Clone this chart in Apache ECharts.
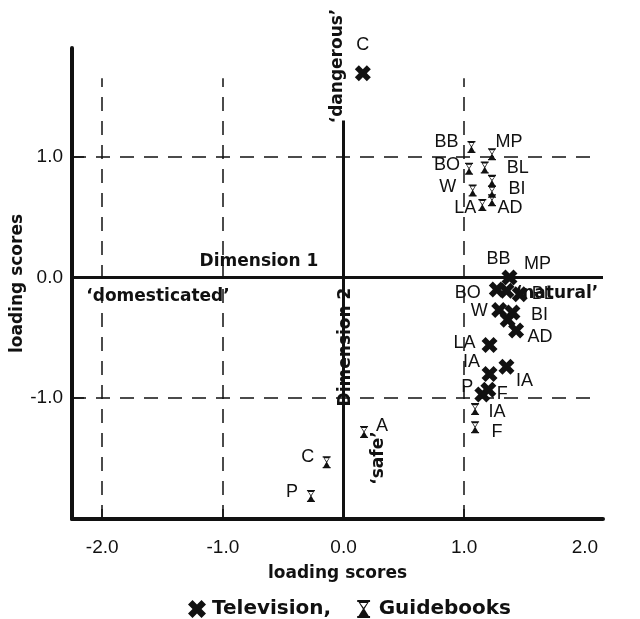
<!DOCTYPE html>
<html>
<head>
<meta charset="utf-8">
<script src="https://cdn.jsdelivr.net/npm/echarts@6/dist/echarts.min.js"></script>
<style>html,body{margin:0;padding:0;background:#fff}#c{width:640px;height:619px}</style>
</head>
<body>
<div id="c"></div>
<script>
// ---- data ----
var tvNames = ['C','MP','BB','BO','BL','W','BI','','AD','LA','IA','IA','P','F'];
var tvX = [0.16, 1.375, 1.35, 1.27, 1.46, 1.29, 1.40, 1.36, 1.43, 1.21, 1.21, 1.35, 1.15, 1.20];
var tvY = [1.69, 0.00, -0.11, -0.10, -0.14, -0.27, -0.29, -0.35, -0.44, -0.56, -0.80, -0.74, -0.97, -0.93];

var gbNames = ['BB','MP','BO','BL','','W','BI','AD','LA','IA','F','A','C','P'];
var gbX = [1.06, 1.23, 1.04, 1.17, 1.23, 1.07, 1.23, 1.23, 1.15, 1.09, 1.09, 0.17, -0.14, -0.27];
var gbY = [1.08, 1.02, 0.90, 0.91, 0.80, 0.72, 0.71, 0.64, 0.60, -1.09, -1.24, -1.28, -1.53, -1.81];

var xTickLabels = [-2, -1, 0, 1, 2];
var yTickLabels = [1, 0, -1];
var dashedX = [-2, -1, 1];
var dashedY = [1, -1];

// ---- label placement (style only) ----
var tvLabelOffsets = [[0,-28],[28,-13],[-8,-32],[-29,3],[23,0],[-20,1],[27,3],[0,0],[24,6],[-25,-2],[-18,-12],[18,14],[-15,-8],[14,4]];
var gbLabelOffsets = [[-25,-5],[17,-12],[-22,-4],[33,0],[0,0],[-25,-3],[25,-3],[18,8],[-17,3],[22,3],[22,5],[18,-6],[-19,-5],[-19,-4]];

var FONT = "'Liberation Sans', Arial, Helvetica, sans-serif";
var BFONT = "'DejaVu Sans', sans-serif";
var xPath = 'path://M0,3 L3,0 L6,3 L9,0 L12,3 L9,6 L12,9 L9,12 L6,9 L3,12 L0,9 L3,6 Z';
var hgPath = 'path://M0,0 L10,0 L10,1.5 L9,1.5 L5.6,7 L9,12.5 L10,12.5 L10,14 L0,14 L0,12.5 L1,12.5 L4.4,7 L1,1.5 L0,1.5 Z M2.3,2.4 L5,6.1 L7.7,2.4 Z';

function build(names, xs, ys, offs) {
  return names.map(function (n, i) {
    return { name: n, value: [xs[i], ys[i]], label: { offset: offs[i] } };
  });
}

var X_MIN = -2.25, X_MAX = 2.15, Y_MIN = -2.0, Y_MAX = 1.9;

var lines = [];
lines.push([{ coord: [X_MIN, 0], lineStyle: { type: 'solid', width: 3 } }, { coord: [X_MAX, 0] }]);
lines.push([{ coord: [0, Y_MIN], lineStyle: { type: 'solid', width: 3 } }, { coord: [0, 1.30] }]);
dashedX.forEach(function (v) {
  lines.push([{ coord: [v, Y_MIN], lineStyle: { type: [14, 10], width: 1.5 } }, { coord: [v, 1.65] }]);
});
dashedY.forEach(function (v) {
  lines.push([{ coord: [X_MIN, v], lineStyle: { type: [14, 10], width: 1.5 } }, { coord: [2.12, v] }]);
});

var chart = echarts.init(document.getElementById('c'), null, { renderer: 'canvas' });
var labelStyle = { show: true, position: 'inside', formatter: '{b}', color: '#111', fontSize: 18, fontFamily: FONT };
var boldText = 'bold 17px ' + BFONT;

chart.setOption({
  animation: false,
  backgroundColor: '#fff',
  textStyle: { fontFamily: FONT },
  grid: { left: 72, right: 37, top: 48, bottom: 100, containLabel: false, outerBoundsMode: 'none' },
  xAxis: {
    type: 'value', min: X_MIN, max: X_MAX,
    name: 'loading scores', nameLocation: 'middle', nameGap: 46, nameMoveOverlap: false,
    nameTextStyle: { fontSize: 17, fontWeight: 'bold', color: '#111', fontFamily: BFONT },
    axisLine: { onZero: false, lineStyle: { color: '#111', width: 4 } },
    axisTick: { show: true, inside: true, length: 10, customValues: [-2, -1, 0, 1], lineStyle: { color: '#111', width: 1.5 } },
    axisLabel: { customValues: xTickLabels, formatter: function (v) { return v.toFixed(1); }, fontSize: 19, color: '#111', margin: 19, fontFamily: FONT },
    splitLine: { show: false }
  },
  yAxis: {
    type: 'value', min: Y_MIN, max: Y_MAX,
    name: 'loading scores', nameLocation: 'middle', nameGap: 46, nameMoveOverlap: false,
    nameTextStyle: { fontSize: 17, fontWeight: 'bold', color: '#111', fontFamily: BFONT },
    axisLine: { onZero: false, lineStyle: { color: '#111', width: 4 } },
    axisTick: { show: true, inside: true, length: 12, customValues: [1, -1], lineStyle: { color: '#111', width: 1.5 } },
    axisLabel: { customValues: yTickLabels, formatter: function (v) { return v.toFixed(1); }, fontSize: 19, color: '#111', margin: 9, fontFamily: FONT },
    splitLine: { show: false }
  },
  legend: {
    left: 183, top: 594, itemGap: 26, itemWidth: 20, itemHeight: 18,
    textStyle: { fontSize: 20, fontWeight: 'bold', color: '#111', fontFamily: BFONT },
    formatter: function (n) { return n === 'Television' ? n + ',' : n; },
    data: [
      { name: 'Television', icon: xPath, itemStyle: { color: '#111' } },
      { name: 'Guidebooks', icon: hgPath, itemStyle: { color: '#111' } }
    ]
  },
  series: [
    {
      name: 'Television', type: 'scatter', symbol: xPath, symbolSize: 16,
      itemStyle: { color: '#111', opacity: 1 },
      label: labelStyle,
      data: build(tvNames, tvX, tvY, tvLabelOffsets),
      z: 5,
      markLine: {
        silent: true, symbol: 'none', animation: false,
        label: { show: false },
        lineStyle: { color: '#111' },
        data: lines
      }
    },
    {
      name: 'Guidebooks', type: 'scatter', symbol: hgPath, symbolSize: [8, 12],
      itemStyle: { color: '#111', opacity: 1 },
      label: labelStyle,
      data: build(gbNames, gbX, gbY, gbLabelOffsets),
      z: 5
    }
  ],
  graphic: [
    { type: 'text', x: 259, y: 262, style: { text: 'Dimension 1', font: boldText, fill: '#111', align: 'center', verticalAlign: 'middle' } },
    { type: 'text', x: 158, y: 297, style: { text: '\u2018domesticated\u2019', font: boldText, fill: '#111', align: 'center', verticalAlign: 'middle' } },
    { type: 'text', x: 557, y: 294, style: { text: '\u2018natural\u2019', font: boldText, fill: '#111', align: 'center', verticalAlign: 'middle' } },
    { type: 'text', x: 346, y: 347, rotation: Math.PI / 2, style: { text: 'Dimension 2', font: boldText, fill: '#111', align: 'center', verticalAlign: 'middle' } },
    { type: 'text', x: 338, y: 66, rotation: Math.PI / 2, style: { text: '\u2018dangerous\u2019', font: boldText, fill: '#111', align: 'center', verticalAlign: 'middle' } },
    { type: 'text', x: 379, y: 458, rotation: Math.PI / 2, style: { text: '\u2018safe\u2019', font: boldText, fill: '#111', align: 'center', verticalAlign: 'middle' } }
  ]
});
</script>
</body>
</html>
